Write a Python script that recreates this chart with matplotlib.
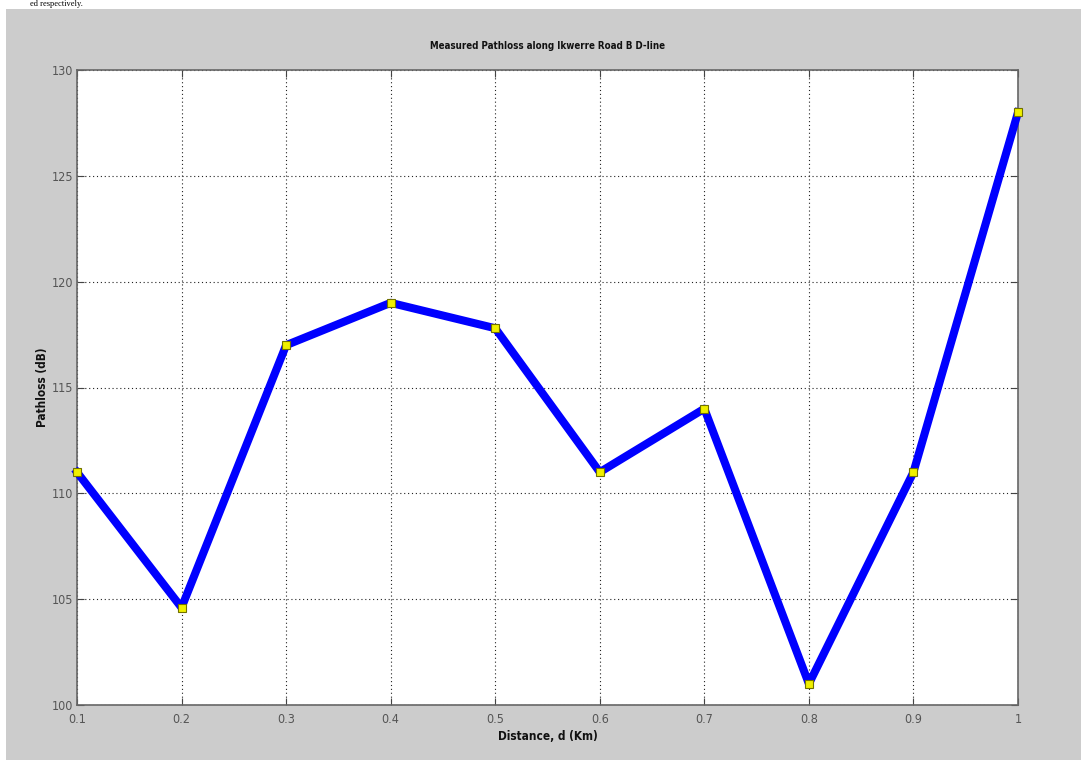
import matplotlib
matplotlib.use("Agg")
import matplotlib.pyplot as plt
from matplotlib.patches import Rectangle

distance_km = [0.1, 0.2, 0.3, 0.4, 0.5, 0.6, 0.7, 0.8, 0.9, 1.0]
pathloss_db = [111, 104.6, 117, 119, 117.8, 111, 114, 101, 111, 128]
xtick_vals = [0.1, 0.2, 0.3, 0.4, 0.5, 0.6, 0.7, 0.8, 0.9, 1.0]
xtick_labels = ["0.1", "0.2", "0.3", "0.4", "0.5", "0.6", "0.7", "0.8", "0.9", "1"]
ytick_vals = [100, 105, 110, 115, 120, 125, 130]

narrow = ['DejaVu Sans']

W, H = 1081, 760
fig = plt.figure(figsize=(W / 100, H / 100), dpi=100, facecolor='white')

# gray MATLAB figure background
fig.patches.append(Rectangle((6 / W, 0), 1 - 6 / W, 1 - 9 / H, transform=fig.transFigure,
                             facecolor='#cccccc', edgecolor='none', zorder=-10))
# document text at the very top
fig.text(30 / W, 1 - 0.5 / H, "ed respectively.", family=['Liberation Serif', 'DejaVu Serif'],
         fontsize=6, va='top', ha='left', color='black')

ax = fig.add_axes([77 / W, 1 - 705 / H, (1018 - 77) / W, (705 - 70) / H])
ax.set_facecolor('white')
ax.plot(distance_km, pathloss_db, color='#0000ff', lw=5.8, marker='s', markersize=6,
        markerfacecolor='#f0f000', markeredgecolor='#707000', markeredgewidth=0.8,
        clip_on=False, zorder=3)

ax.set_xlim(0.1, 1.0)
ax.set_ylim(100, 130)
ax.set_xticks(xtick_vals)
ax.set_xticklabels(xtick_labels)
ax.set_yticks(ytick_vals)
ax.grid(True, color='#222222', linestyle=(0, (1, 2.5)), linewidth=0.8)
ax.tick_params(direction='in', top=True, right=True, length=5, width=0.8,
               colors='#444444', labelsize=9)
ax.tick_params(axis='x', pad=6)
ax.tick_params(axis='y', pad=3)
for lab in ax.get_xticklabels() + ax.get_yticklabels():
    lab.set_family(narrow)
    lab.set_stretch('condensed')
    lab.set_color('#555555')
for s in ax.spines.values():
    s.set_color('#666666')
    s.set_linewidth(1.2)

ax.set_title("Measured Pathloss along Ikwerre Road B D-line", family=narrow, stretch='condensed',
             fontweight='bold', fontsize=7, pad=15, color='#111111')
ax.set_xlabel("Distance, d (Km)", family=narrow, stretch='condensed', fontweight='bold',
              fontsize=8.5, labelpad=3, color='#111111')
ax.set_ylabel("Pathloss (dB)", family=narrow, stretch='condensed', fontweight='bold',
              fontsize=8.5, labelpad=2, color='#111111')

fig.savefig("out.png", dpi=100, facecolor=fig.get_facecolor())
